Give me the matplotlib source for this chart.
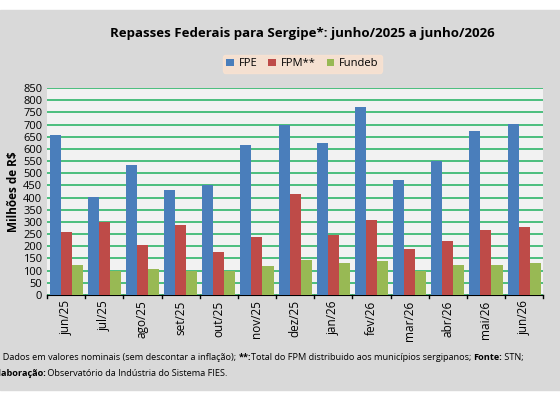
import matplotlib
matplotlib.use("Agg")
import matplotlib.pyplot as plt
import numpy as np
from matplotlib.patches import Rectangle

months = ["jun/25","jul/25","ago/25","set/25","out/25","nov/25","dez/25","jan/26","fev/26","mar/26","abr/26","mai/26","jun/26"]
fpe = [658, 402, 532, 430, 452, 615, 698, 626, 773, 472, 552, 672, 701]
fpm = [257, 298, 206, 288, 177, 240, 415, 245, 308, 189, 222, 267, 281]
fundeb = [123, 100, 106, 97, 100, 120, 145, 130, 138, 100, 122, 125, 130]

plt.rcParams['font.family'] = ['Open Sans', 'DejaVu Sans']
fig = plt.figure(figsize=(5.6, 4.04), dpi=100)
fig.patch.set_facecolor('white')
fig.add_artist(Rectangle((0, 14/404), 1, 380/404, transform=fig.transFigure, color='#d9d9d9', zorder=-10))

ax = fig.add_axes([0.084, 0.270, 0.886, 0.512])
ax.set_facecolor('#f2f2f2')
x = np.arange(len(months))
w = 0.29
ax.bar(x - w, fpe, w, color='#4a7ebb', label='FPE', zorder=3)
ax.bar(x, fpm, w, color='#be4b48', label='FPM**', zorder=3)
ax.bar(x + w, fundeb, w, color='#98b954', label='Fundeb', zorder=3)
ax.set_ylim(0, 850)
ax.set_yticks(range(0, 851, 50))
ax.set_xlim(-0.5, len(months) - 0.5)
ax.set_xticks(x)
ax.set_xticklabels(months, rotation=90, fontsize=8.5)
ax.tick_params(axis='y', labelsize=8, length=0)
ax.tick_params(axis='x', length=0, pad=4)
ax.yaxis.grid(True, color='#2fb56a', linewidth=1.2, zorder=0)
for s in ['top', 'right', 'left']:
    ax.spines[s].set_visible(False)
ax.spines['bottom'].set_color('black')
for b in np.arange(-0.5, len(months), 1):
    ax.plot([b, b], [0, -12], color='black', lw=1, clip_on=False)
ax.set_ylabel('Milhões de R$', fontsize=8.5, fontweight='bold', labelpad=2)

fig.text(0.54, 0.918, 'Repasses Federais para Sergipe*: junho/2025 a junho/2026', ha='center', va='center', fontsize=9.5, fontweight='bold')
leg = fig.legend(loc='center', bbox_to_anchor=(0.54, 0.842), ncol=3, fontsize=8, frameon=True,
                 handlelength=0.7, handleheight=0.7, columnspacing=1.0, handletextpad=0.4, borderpad=0.3)
leg.get_frame().set_facecolor('#fbe3d0')
leg.get_frame().set_edgecolor('#fbe3d0')

def chain(parts, x0, y0):
    prev = None
    for s, bold in parts:
        fw = 'bold' if bold else 'normal'
        if prev is None:
            prev = fig.text(x0, y0, s, fontsize=6.6, fontweight=fw, va='baseline')
        else:
            prev = fig.text(0, 0, s, fontsize=6.6, fontweight=fw, va='baseline',
                            transform=matplotlib.transforms.offset_copy(fig.transFigure, fig=fig, x=0, y=0))
            prev.remove()
            prev = fig.add_artist(matplotlib.text.Annotation(s, xy=(1, 0), xycoords=last, xytext=(0, 0),
                                   textcoords='offset points', fontsize=6.6, fontweight=fw, va='baseline', ha='left'))
        last = prev
    return prev

def chain2(parts, x0, y0):
    last = None
    for s, bold in parts:
        fw = 'bold' if bold else 'normal'
        if last is None:
            last = fig.text(x0, y0, s, fontsize=6.6, fontweight=fw, va='bottom')
        else:
            last = fig.text(0, 0, s, fontsize=6.6, fontweight=fw, va='bottom')
            last.remove()
            prev = prev_art
            last = matplotlib.text.Annotation(s, xy=(1, 0), xycoords=prev, fontsize=6.6, fontweight=fw,
                                              va='bottom', ha='left')
            fig.add_artist(last)
        prev_art = last

chain2([('*: Dados em valores nominais (sem descontar a inflação); ', False), ('**:', True),
        ('Total do FPM distribuido aos municípios sergipanos; ', False), ('Fonte:', True), (' STN;', False)],
       -0.013, 0.105)
chain2([('Elaboração:', True), (' Observatório da Indústria do Sistema FIES.', False)], -0.013, 0.065)

fig.savefig('out.png', dpi=100)
